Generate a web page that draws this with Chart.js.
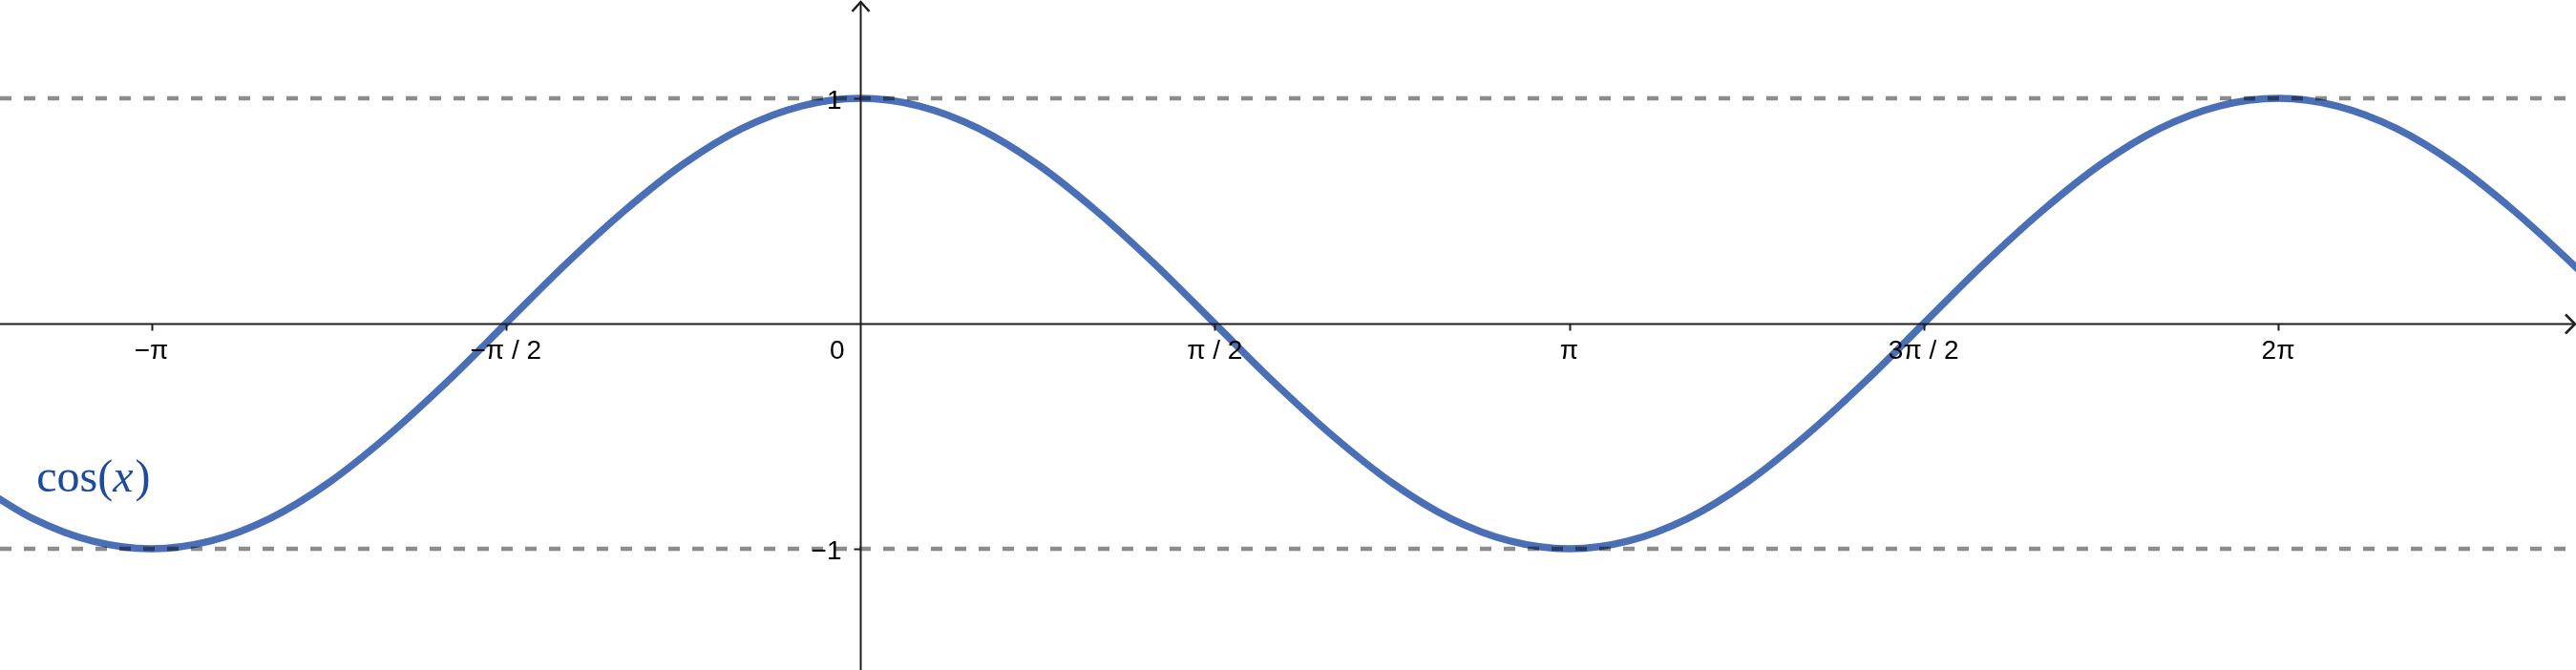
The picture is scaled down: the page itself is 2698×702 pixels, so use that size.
<!DOCTYPE html>
<html>
<head>
<meta charset="utf-8">
<script src="https://cdn.jsdelivr.net/npm/chart.js@4/dist/chart.umd.min.js"></script>
<style>
  html,body{margin:0;padding:0;background:#fff;}
  #wrap{width:2698px;height:702px;}
</style>
</head>
<body>
<div id="wrap"><canvas id="c"></canvas></div>
<script>
// x in units of pi
const xPi = [-1.25,-1.167,-1.083,-1,-0.917,-0.833,-0.75,-0.667,-0.583,-0.5,-0.417,-0.333,-0.25,-0.167,-0.083,
  0,0.083,0.167,0.25,0.333,0.417,0.5,0.583,0.667,0.75,0.833,0.917,1,1.083,1.167,1.25,1.333,1.417,
  1.5,1.583,1.667,1.75,1.833,1.917,2,2.083,2.167,2.25,2.333,2.417,2.5];
const cosY = [-0.707,-0.866,-0.966,-1,-0.966,-0.866,-0.707,-0.5,-0.259,0,0.259,0.5,0.707,0.866,0.966,
  1,0.966,0.866,0.707,0.5,0.259,0,-0.259,-0.5,-0.707,-0.866,-0.966,-1,-0.966,-0.866,-0.707,-0.5,-0.259,
  0,0.259,0.5,0.707,0.866,0.966,1,0.966,0.866,0.707,0.5,0.259,0];
const xTicks = [-1,-0.5,0.5,1,1.5,2];
const xTickLabels = ['\u2212\u03c0','\u2212\u03c0 / 2','\u03c0 / 2','\u03c0','3\u03c0 / 2','2\u03c0'];
const yTicks = [1,-1];
const yTickLabels = ['1','\u22121'];
const boundLevels = [1,-1];

const X_MIN = -1.2135, X_MAX = 2.4202;
const Y_MIN = -1.5381, Y_MAX = 1.4364;

const curvePts = xPi.map((x,i)=>({x:x, y:cosY[i]}));
const dashSets = boundLevels.map(v=>({
  data:[{x:X_MIN,y:v},{x:X_MAX,y:v}],
  borderColor:'rgba(0,0,0,0.45)', borderWidth:4.5, borderDash:[12,13],
  pointRadius:0, order:1
}));

const axesPlugin = {
  id:'axes',
  afterDatasetsDraw(chart){
    const ctx = chart.ctx, xs = chart.scales.x, ys = chart.scales.y;
    const a = chart.chartArea;
    const x0 = Math.round(xs.getPixelForValue(0)) + 0.5;
    const y0 = Math.round(ys.getPixelForValue(0)) + 0.5;
    ctx.save();
    ctx.strokeStyle = '#1e1e1e';
    ctx.lineWidth = 2;
    ctx.beginPath();
    ctx.moveTo(a.left, y0); ctx.lineTo(a.right - 1, y0);
    ctx.moveTo(x0, a.bottom); ctx.lineTo(x0, a.top + 2);
    ctx.stroke();
    // arrows
    ctx.lineWidth = 2.5;
    ctx.beginPath();
    ctx.moveTo(x0 - 9, a.top + 12); ctx.lineTo(x0, a.top + 2); ctx.lineTo(x0 + 9, a.top + 12);
    ctx.moveTo(a.right - 11, y0 - 10); ctx.lineTo(a.right - 1, y0); ctx.lineTo(a.right - 11, y0 + 10);
    ctx.stroke();
    // ticks
    ctx.lineWidth = 2;
    ctx.beginPath();
    xTicks.forEach(v=>{
      const px = Math.round(xs.getPixelForValue(v)) + 0.5;
      ctx.moveTo(px, y0); ctx.lineTo(px, y0 + 7);
    });
    yTicks.forEach(v=>{
      const py = Math.round(ys.getPixelForValue(v)) + 0.5;
      ctx.moveTo(x0, py); ctx.lineTo(x0 - 7, py);
    });
    ctx.stroke();
    // labels
    ctx.fillStyle = '#000';
    ctx.font = '28px "Liberation Sans", Arial, sans-serif';
    ctx.textBaseline = 'alphabetic';
    ctx.textAlign = 'center';
    xTicks.forEach((v,i)=>{
      ctx.fillText(xTickLabels[i], xs.getPixelForValue(v), y0 + 36);
    });
    ctx.textAlign = 'right';
    ctx.fillText('0', x0 - 17, y0 + 36);
    yTicks.forEach((v,i)=>{
      ctx.fillText(yTickLabels[i], x0 - 20, ys.getPixelForValue(v) + 11);
    });
    // function label
    ctx.fillStyle = '#1c4ba0';
    ctx.textAlign = 'left';
    let lx = xs.getPixelForValue(-1.162), ly = ys.getPixelForValue(-0.746);
    const fs = 48;
    ctx.font = fs + 'px "Liberation Serif", "DejaVu Serif", serif';
    ctx.fillText('cos(', lx, ly);
    lx += ctx.measureText('cos(').width;
    ctx.font = 'italic ' + fs + 'px "Liberation Serif", "DejaVu Serif", serif';
    ctx.fillText('x', lx, ly);
    lx += ctx.measureText('x').width + 2;
    ctx.font = fs + 'px "Liberation Serif", "DejaVu Serif", serif';
    ctx.fillText(')', lx, ly);
    ctx.restore();
  }
};

new Chart(document.getElementById('c').getContext('2d'), {
  type:'line',
  data:{datasets:[
    {data:curvePts, borderColor:'#4a6fb7', borderWidth:7.5, pointRadius:0,
     cubicInterpolationMode:'monotone', order:2},
    ...dashSets
  ]},
  options:{
    responsive:true, maintainAspectRatio:false, animation:false,
    layout:{padding:0},
    plugins:{legend:{display:false}, tooltip:{enabled:false}},
    scales:{
      x:{type:'linear', min:X_MIN, max:X_MAX, display:false},
      y:{type:'linear', min:Y_MIN, max:Y_MAX, display:false}
    }
  },
  plugins:[axesPlugin]
});
</script>
</body>
</html>
